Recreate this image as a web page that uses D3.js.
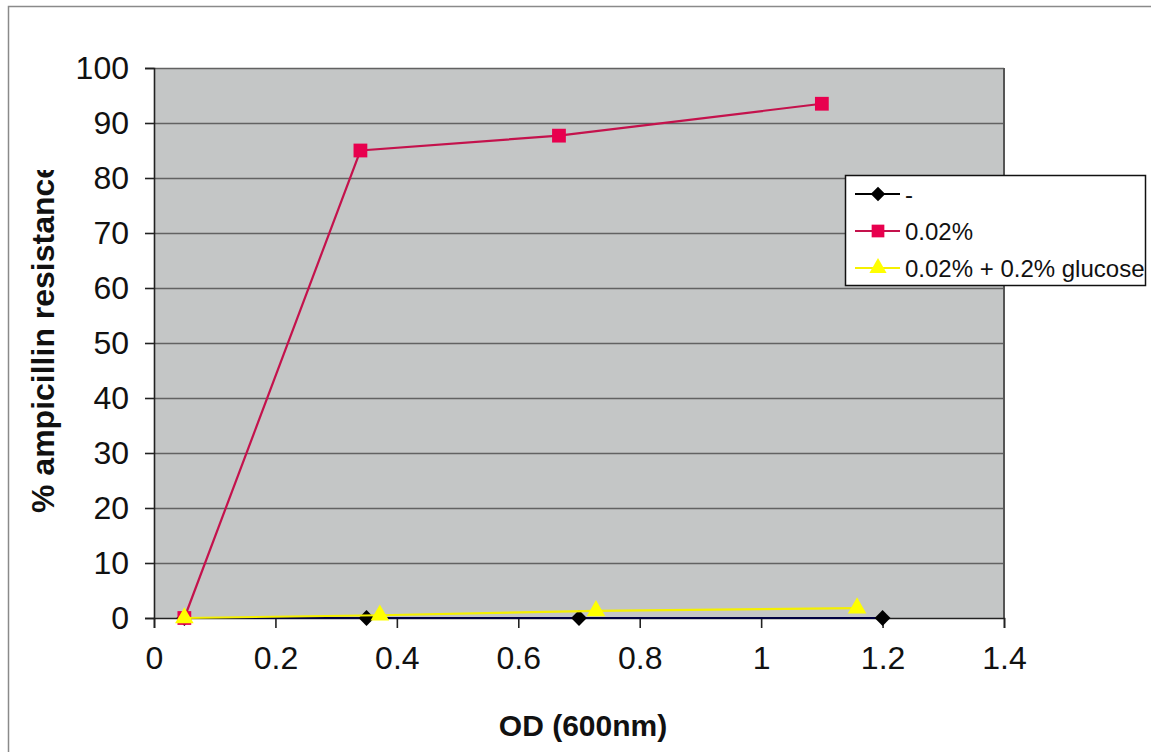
<!DOCTYPE html>
<html>
<head>
<meta charset="utf-8">
<script src="https://cdn.jsdelivr.net/npm/d3@7"></script>
<style>
  html, body { margin: 0; padding: 0; background: #fff; }
  svg { display: block; font-family: Arial, "Liberation Sans", sans-serif; }
</style>
</head>
<body>
<svg id="chart" width="1151" height="752"></svg>
<script>
// OD readings (600nm) and % ampicillin resistance for each arabinose condition
const odNone = [0.05, 0.35, 0.70, 1.20];
const resNone = [0, 0, 0, 0];
const odAra = [0.05, 0.34, 0.667, 1.10];
const resAra = [0, 85, 87.7, 93.5];
const odAraGlc = [0.05, 0.372, 0.728, 1.158];
const resAraGlc = [0, 0.5, 1.3, 1.8];

const seriesNames = ["-", "0.02%", "0.02% + 0.2% glucose"];
const xTicks = [0, 0.2, 0.4, 0.6, 0.8, 1, 1.2, 1.4];
const yTicks = [0, 10, 20, 30, 40, 50, 60, 70, 80, 90, 100];

const series = [
  { name: seriesNames[0], xs: odNone, ys: resNone, line: "#000040", legendLine: "#000000", fill: "#000000", shape: d3.symbolSquare, rot: 45, size: 125 },
  { name: seriesNames[1], xs: odAra, ys: resAra, line: "#c4124c", legendLine: "#c4124c", fill: "#e8004e", shape: d3.symbolSquare, rot: 0, size: 190 },
  { name: seriesNames[2], xs: odAraGlc, ys: resAraGlc, line: "#f5f000", legendLine: "#f5f000", fill: "#ffff00", shape: d3.symbolTriangle, rot: 0, size: 150 }
];

const svg = d3.select("#chart");
const plot = { left: 154, right: 1004, top: 68, bottom: 618 };

const x = d3.scaleLinear().domain([0, 1.4]).range([plot.left, plot.right]);
const y = d3.scaleLinear().domain([0, 100]).range([plot.bottom, plot.top]);

// outer chart frame
svg.append("rect")
  .attr("x", 8.5).attr("y", 6.5)
  .attr("width", 1160).attr("height", 760)
  .attr("fill", "none").attr("stroke", "#8a8a8a").attr("stroke-width", 1.5);

// plot area background
svg.append("rect")
  .attr("x", plot.left).attr("y", plot.top)
  .attr("width", plot.right - plot.left).attr("height", plot.bottom - plot.top)
  .attr("fill", "#c4c6c6");

// horizontal gridlines
svg.append("g")
  .selectAll("line")
  .data(yTicks.filter(t => t > 0))
  .join("line")
  .attr("x1", plot.left).attr("x2", plot.right)
  .attr("y1", d => y(d) + 0.5).attr("y2", d => y(d) + 0.5)
  .attr("stroke", "#626262").attr("stroke-width", 1.6);

// plot border (right side)
svg.append("line")
  .attr("x1", plot.right).attr("x2", plot.right)
  .attr("y1", plot.top).attr("y2", plot.bottom)
  .attr("stroke", "#555").attr("stroke-width", 2);

// y axis
const yAxis = d3.axisLeft(y).tickValues(yTicks).tickSize(9).tickPadding(16).tickFormat(d3.format("d"));
const gy = svg.append("g").attr("transform", `translate(${plot.left},0)`).call(yAxis);
gy.select(".domain").attr("stroke", "#222").attr("stroke-width", 1.6);
gy.selectAll(".tick line").attr("stroke", "#222").attr("stroke-width", 1.6);
gy.selectAll(".tick text").attr("font-size", 32).attr("fill", "#111")
  .attr("font-family", "Arial, 'Liberation Sans', sans-serif");

// x axis
const xAxis = d3.axisBottom(x).tickValues(xTicks).tickSize(10).tickPadding(18).tickFormat(d => String(d));
const gx = svg.append("g").attr("transform", `translate(0,${plot.bottom})`).call(xAxis);
gx.select(".domain").attr("stroke", "#222").attr("stroke-width", 1.6);
gx.selectAll(".tick line").attr("stroke", "#222").attr("stroke-width", 1.6);
gx.selectAll(".tick text").attr("font-size", 32).attr("fill", "#111")
  .attr("font-family", "Arial, 'Liberation Sans', sans-serif");

// series lines and markers
const lineGen = d3.line().x(d => x(d[0])).y(d => y(d[1]));
series.forEach(s => {
  const pts = s.xs.map((v, i) => [v, s.ys[i]]);
  svg.append("path")
    .attr("d", lineGen(pts))
    .attr("fill", "none").attr("stroke", s.line).attr("stroke-width", 2.2);
  svg.append("g").selectAll("path")
    .data(pts)
    .join("path")
    .attr("transform", d => `translate(${x(d[0])},${y(d[1])}) rotate(${s.rot})`)
    .attr("d", d3.symbol().type(s.shape).size(s.size))
    .attr("fill", s.fill);
});

// axis titles
svg.append("text")
  .attr("x", 583).attr("y", 736)
  .attr("text-anchor", "middle")
  .attr("font-size", 30).attr("font-weight", "bold").attr("fill", "#111")
  .text("OD (600nm)");

svg.append("clipPath").attr("id", "ytitle-clip")
  .append("rect").attr("x", 0).attr("y", 170).attr("width", 120).attr("height", 500);

svg.append("g").attr("clip-path", "url(#ytitle-clip)")
  .append("text")
  .attr("transform", "translate(54,513) rotate(-90)")
  .attr("text-anchor", "start")
  .attr("font-size", 32).attr("font-weight", "bold").attr("fill", "#111")
  .text("% ampicillin resistance");

// legend
const legend = svg.append("g");
legend.append("rect")
  .attr("x", 845.5).attr("y", 175.5).attr("width", 300).attr("height", 110)
  .attr("fill", "#fff").attr("stroke", "#111").attr("stroke-width", 1.5);

const rowY = [194, 231, 268];
series.forEach((s, i) => {
  const ry = rowY[i];
  legend.append("line")
    .attr("x1", 855).attr("x2", 900).attr("y1", ry).attr("y2", ry)
    .attr("stroke", s.legendLine).attr("stroke-width", 2);
  legend.append("path")
    .attr("transform", `translate(878,${ry}) rotate(${s.rot})`)
    .attr("d", d3.symbol().type(s.shape).size(s.size * 0.85))
    .attr("fill", s.fill);
  legend.append("text")
    .attr("x", 905).attr("y", ry + 9)
    .attr("font-size", 24).attr("fill", "#111")
    .text(s.name);
});
</script>
</body>
</html>
